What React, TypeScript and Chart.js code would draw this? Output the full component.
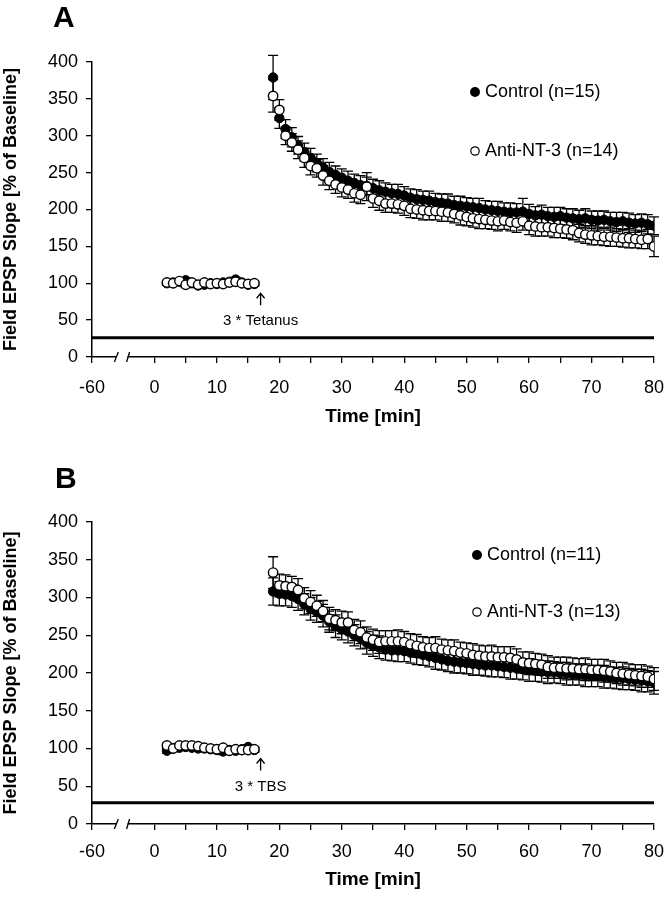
import React, { useEffect, useRef } from 'react';
import { Chart, registerables } from 'chart.js';
Chart.register(...registerables);

const FONT = "'Liberation Sans', Arial, Helvetica, sans-serif";

// ---------- shared axis data ----------
const TIME_BASE = [2, 3, 4, 5, 6, 7, 8, 9, 10, 11, 12, 13, 14, 15, 16];
const TIME_POST = [
  19, 20, 21, 22, 23, 24, 25, 26, 27, 28,
  29, 30, 31, 32, 33, 34, 35, 36, 37, 38,
  39, 40, 41, 42, 43, 44, 45, 46, 47, 48,
  49, 50, 51, 52, 53, 54, 55, 56, 57, 58,
  59, 60, 61, 62, 63, 64, 65, 66, 67, 68,
  69, 70, 71, 72, 73, 74, 75, 76, 77, 78,
  79, 80,
];
const X_TICK_VALUES = [-10, 0, 5, 10, 15, 20, 25, 30, 35, 40, 45, 50, 55, 60, 65, 70, 75, 80];
const X_TICK_LABELS = ['-60', '0', '', '10', '', '20', '', '30', '', '40', '', '50', '', '60', '', '70', '', '80'];
const X_MIN = -10;
const X_MAX = 80;
const Y_MIN = 0;
const Y_MAX = 400;
const Y_MINOR_STEP = 25;
const Y_LABEL_STEP = 50;

// ---------- Panel A ----------
const CTRL_BASE_A = [100, 101, 102, 104, 100, 97, 98, 100, 99, 101, 102, 105, 101, 98, 99];
const ANTI_BASE_A = [101, 100, 103, 98, 101, 98, 101, 99, 100, 99, 101, 102, 100, 99, 100];
const CTRL_BASE_ERR_A = [3, 3, 4, 3, 3, 3, 4, 3, 3, 3, 4, 3, 3, 3, 3];
const ANTI_BASE_ERR_A = [3, 3, 3, 4, 3, 3, 3, 3, 4, 3, 3, 3, 3, 4, 3];
const CTRL_POST_A = [
  379, 324, 309, 298, 287, 278, 270, 263, 257, 251,
  247, 243, 239, 236, 233, 232, 229, 226, 224, 222,
  221, 219, 216, 214, 213, 212, 210, 209, 208, 206,
  205, 204, 203, 202, 200, 199, 198, 197, 196, 196,
  197, 194, 192, 193, 191, 190, 191, 189, 188, 187,
  188, 186, 185, 186, 184, 183, 184, 182, 181, 182,
  180, 178,
];
const CTRL_POST_ERR_A = [
  30, 14, 13, 13, 12, 12, 13, 12, 12, 13,
  12, 12, 13, 12, 13, 12, 12, 13, 12, 12,
  13, 12, 12, 13, 12, 13, 12, 12, 13, 12,
  13, 12, 12, 13, 12, 12, 13, 12, 13, 12,
  18, 13, 12, 13, 12, 13, 12, 12, 13, 12,
  13, 12, 13, 12, 12, 13, 12, 13, 12, 12,
  13, 12,
];
const ANTI_POST_A = [
  354, 335, 300, 291, 281, 270, 259, 256, 246, 239,
  234, 230, 227, 222, 220, 231, 215, 212, 208, 208,
  207, 205, 201, 200, 199, 198, 198, 197, 196, 194,
  192, 190, 188, 187, 186, 185, 184, 185, 183, 182,
  184, 178, 177, 176, 176, 175, 174, 173, 172, 168,
  166, 165, 164, 163, 163, 162, 161, 161, 160, 159,
  160, 150,
];
const ANTI_POST_ERR_A = [
  22, 14, 12, 12, 12, 13, 12, 12, 13, 12,
  12, 13, 12, 12, 12, 19, 12, 13, 12, 12,
  12, 13, 12, 12, 13, 12, 12, 13, 12, 12,
  13, 12, 12, 13, 12, 12, 13, 12, 12, 13,
  12, 12, 13, 12, 12, 13, 12, 12, 13, 12,
  12, 13, 12, 12, 13, 12, 12, 13, 12, 12,
  13, 14,
];
const STIM_LINE_A = 26;
const EVENT_TIME_A = 17;

// ---------- Panel B ----------
const CTRL_BASE_B = [97, 100, 101, 102, 101, 100, 100, 99, 98, 96, 98, 97, 99, 102, 98];
const ANTI_BASE_B = [104, 100, 104, 104, 104, 103, 101, 100, 99, 101, 97, 99, 98, 98, 99];
const CTRL_BASE_ERR_B = [3, 3, 3, 4, 3, 3, 3, 3, 3, 4, 3, 3, 3, 3, 3];
const ANTI_BASE_ERR_B = [3, 4, 3, 3, 3, 3, 3, 4, 3, 3, 3, 3, 4, 3, 3];
const CTRL_POST_B = [
  308, 305, 304, 302, 298, 291, 285, 281, 276, 268,
  262, 258, 255, 250, 246, 240, 236, 234, 231, 230,
  230, 229, 227, 226, 224, 222, 220, 218, 216, 215,
  214, 213, 212, 211, 210, 210, 209, 208, 207, 206,
  205, 204, 203, 202, 201, 201, 200, 199, 198, 198,
  197, 196, 196, 195, 194, 193, 193, 192, 191, 190,
  189, 187,
];
const CTRL_POST_ERR_B = [
  18, 16, 15, 15, 15, 14, 15, 14, 15, 14,
  15, 14, 15, 14, 14, 15, 14, 15, 14, 14,
  15, 14, 14, 15, 14, 14, 15, 14, 14, 15,
  14, 14, 15, 14, 14, 15, 14, 14, 15, 14,
  14, 15, 14, 14, 15, 14, 14, 15, 14, 14,
  15, 14, 14, 15, 14, 14, 15, 14, 14, 15,
  14, 15,
];
const ANTI_POST_B = [
  333, 316, 315, 314, 310, 299, 294, 289, 282, 272,
  270, 267, 267, 257, 254, 247, 244, 241, 242, 242,
  242, 241, 238, 236, 234, 233, 233, 231, 230, 229,
  227, 226, 224, 223, 222, 222, 221, 221, 220, 218,
  214, 213, 212, 211, 208, 207, 207, 206, 206, 205,
  205, 204, 204, 203, 202, 200, 199, 198, 197, 196,
  195, 192,
];
const ANTI_POST_ERR_B = [
  21, 15, 15, 14, 15, 14, 15, 14, 14, 15,
  14, 15, 14, 14, 15, 14, 14, 15, 14, 14,
  15, 14, 14, 15, 14, 14, 15, 14, 14, 15,
  14, 14, 15, 14, 14, 15, 14, 14, 15, 14,
  14, 15, 14, 14, 15, 14, 14, 15, 14, 14,
  15, 14, 14, 15, 14, 14, 15, 14, 14, 15,
  14, 15,
];
const STIM_LINE_B = 28;
const EVENT_TIME_B = 17;

type PanelCfg = {
  letter: string;
  letterX: number;
  letterY: number;
  height: number;
  padTop: number;
  xAxisHeight: number;
  tickPad: number;
  titlePadBottom: number;
  ctrlBase: number[];
  antiBase: number[];
  ctrlBaseErr: number[];
  antiBaseErr: number[];
  ctrlPost: number[];
  antiPost: number[];
  ctrlPostErr: number[];
  antiPostErr: number[];
  stim: number;
  eventTime: number;
  eventLabel: string;
  ctrlLabel: string;
  antiLabel: string;
  legendX: number;
  legendCtrlY: number;
  legendAntiY: number;
};

const PANELS: PanelCfg[] = [
  {
    letter: 'A', letterX: 53, letterY: 27, height: 450, padTop: 62, xAxisHeight: 93,
    tickPad: 14, titlePadBottom: 22,
    ctrlBase: CTRL_BASE_A, antiBase: ANTI_BASE_A, ctrlBaseErr: CTRL_BASE_ERR_A, antiBaseErr: ANTI_BASE_ERR_A,
    ctrlPost: CTRL_POST_A, antiPost: ANTI_POST_A, ctrlPostErr: CTRL_POST_ERR_A, antiPostErr: ANTI_POST_ERR_A,
    stim: STIM_LINE_A, eventTime: EVENT_TIME_A, eventLabel: '3 * Tetanus',
    ctrlLabel: 'Control (n=15)', antiLabel: 'Anti-NT-3 (n=14)',
    legendX: 475, legendCtrlY: 92, legendAntiY: 151,
  },
  {
    letter: 'B', letterX: 55, letterY: 38, height: 449, padTop: 72, xAxisHeight: 75,
    tickPad: 11, titlePadBottom: 8,
    ctrlBase: CTRL_BASE_B, antiBase: ANTI_BASE_B, ctrlBaseErr: CTRL_BASE_ERR_B, antiBaseErr: ANTI_BASE_ERR_B,
    ctrlPost: CTRL_POST_B, antiPost: ANTI_POST_B, ctrlPostErr: CTRL_POST_ERR_B, antiPostErr: ANTI_POST_ERR_B,
    stim: STIM_LINE_B, eventTime: EVENT_TIME_B, eventLabel: '3 * TBS',
    ctrlLabel: 'Control (n=11)', antiLabel: 'Anti-NT-3 (n=13)',
    legendX: 477, legendCtrlY: 105, legendAntiY: 162,
  },
];

const errorBarPlugin = {
  id: 'errorBars',
  beforeDatasetsDraw(chart: any) {
    const ctx = chart.ctx;
    const y = chart.scales.y;
    ctx.save();
    ctx.strokeStyle = '#000';
    ctx.lineWidth = 1.3;
    chart.data.datasets.forEach((ds: any, i: number) => {
      if (!ds.errors) return;
      const meta = chart.getDatasetMeta(i);
      meta.data.forEach((el: any, j: number) => {
        const v = ds.data[j].y;
        const e = ds.errors[j] || 0;
        const top = y.getPixelForValue(v + e);
        const bot = y.getPixelForValue(v - e);
        const cap = 5;
        ctx.beginPath();
        ctx.moveTo(el.x, top);
        ctx.lineTo(el.x, bot);
        ctx.moveTo(el.x - cap, top);
        ctx.lineTo(el.x + cap, top);
        ctx.moveTo(el.x - cap, bot);
        ctx.lineTo(el.x + cap, bot);
        ctx.stroke();
      });
    });
    ctx.restore();
  },
};

function decorPlugin(p: PanelCfg) {
  return {
    id: 'decor',
    afterDraw(chart: any) {
      const ctx = chart.ctx;
      const xs = chart.scales.x;
      const ys = chart.scales.y;
      ctx.save();
      // panel letter
      ctx.fillStyle = '#000';
      ctx.font = `bold 30px ${FONT}`;
      ctx.textAlign = 'left';
      ctx.textBaseline = 'alphabetic';
      ctx.fillText(p.letter, p.letterX, p.letterY);

      // legend
      ctx.font = `18px ${FONT}`;
      ctx.textBaseline = 'middle';
      ctx.beginPath();
      ctx.arc(p.legendX, p.legendCtrlY, 5, 0, Math.PI * 2);
      ctx.fill();
      ctx.fillText(p.ctrlLabel, p.legendX + 10, p.legendCtrlY);
      ctx.beginPath();
      ctx.lineWidth = 1.2;
      ctx.strokeStyle = '#000';
      ctx.arc(p.legendX, p.legendAntiY, 4.2, 0, Math.PI * 2);
      ctx.stroke();
      ctx.fillText(p.antiLabel, p.legendX + 10, p.legendAntiY);

      // stimulation arrow + label
      const ax = xs.getPixelForValue(p.eventTime);
      const tip = ys.getPixelForValue(100) + 10;
      ctx.lineWidth = 1.3;
      ctx.beginPath();
      ctx.moveTo(ax, tip);
      ctx.lineTo(ax, tip + 12);
      ctx.moveTo(ax - 4, tip + 5);
      ctx.lineTo(ax, tip);
      ctx.lineTo(ax + 4, tip + 5);
      ctx.stroke();
      ctx.font = `15px ${FONT}`;
      ctx.textAlign = 'center';
      ctx.fillText(p.eventLabel, ax, tip + 28);

      // axis break
      const yAxis = ys.getPixelForValue(0);
      const b1 = xs.getPixelForValue(-6.1);
      const b2 = xs.getPixelForValue(-4.3);
      ctx.fillStyle = '#fff';
      ctx.fillRect(b1, yAxis - 2, b2 - b1, 4);
      ctx.lineWidth = 1.3;
      ctx.beginPath();
      ctx.moveTo(b1 - 2, yAxis + 5);
      ctx.lineTo(b1 + 2, yAxis - 5);
      ctx.moveTo(b2 - 1, yAxis + 5);
      ctx.lineTo(b2 + 2, yAxis - 5);
      ctx.stroke();
      ctx.restore();
    },
  };
}

function buildConfig(p: PanelCfg): any {
  const ctrl = [
    ...TIME_BASE.map((t, i) => ({ x: t, y: p.ctrlBase[i] })),
    ...TIME_POST.map((t, i) => ({ x: t, y: p.ctrlPost[i] })),
  ];
  const anti = [
    ...TIME_BASE.map((t, i) => ({ x: t, y: p.antiBase[i] })),
    ...TIME_POST.map((t, i) => ({ x: t, y: p.antiPost[i] })),
  ];
  return {
    type: 'scatter',
    data: {
      datasets: [
        {
          label: p.antiLabel,
          data: anti,
          errors: [...p.antiBaseErr, ...p.antiPostErr],
          pointRadius: 4.7,
          pointBackgroundColor: '#fff',
          pointBorderColor: '#000',
          pointBorderWidth: 1.4,
          showLine: false,
        },
        {
          label: p.ctrlLabel,
          data: ctrl,
          errors: [...p.ctrlBaseErr, ...p.ctrlPostErr],
          pointRadius: 4.7,
          pointBackgroundColor: '#000',
          pointBorderColor: '#000',
          pointBorderWidth: 1,
          showLine: false,
        },
        {
          label: 'stimulus',
          type: 'line',
          data: [{ x: X_MIN, y: p.stim }, { x: X_MAX, y: p.stim }],
          borderColor: '#000',
          borderWidth: 3,
          pointRadius: 0,
          showLine: true,
          fill: false,
        },
      ],
    },
    options: {
      responsive: false,
      animation: false,
      devicePixelRatio: 1,
      layout: { padding: { top: p.padTop, right: 13, left: 0, bottom: 0 } },
      plugins: { legend: { display: false }, tooltip: { enabled: false }, title: { display: false } },
      scales: {
        x: {
          type: 'linear',
          min: X_MIN,
          max: X_MAX,
          afterBuildTicks: (s: any) => {
            s.ticks = X_TICK_VALUES.map((v) => ({ value: v }));
          },
          afterFit: (s: any) => {
            s.height = p.xAxisHeight;
            s.paddingLeft = 0;
            s.paddingRight = 0;
          },
          ticks: {
            autoSkip: false,
            maxRotation: 0,
            padding: p.tickPad,
            color: '#000',
            font: { family: FONT, size: 18 },
            callback: (_v: any, i: number) => X_TICK_LABELS[i],
          },
          grid: { drawOnChartArea: false, drawTicks: true, tickLength: 6, color: '#000', lineWidth: 1.3 },
          border: { display: true, color: '#000', width: 1.5 },
          title: {
            display: true,
            text: 'Time [min]',
            color: '#000',
            font: { family: FONT, size: 19, weight: 'bold' },
            padding: { top: 0, bottom: p.titlePadBottom },
          },
        },
        y: {
          type: 'linear',
          min: Y_MIN,
          max: Y_MAX,
          afterFit: (s: any) => {
            s.width = 92;
            s.paddingTop = 0;
            s.paddingBottom = 0;
          },
          ticks: {
            stepSize: Y_MINOR_STEP,
            padding: 8,
            color: '#000',
            font: { family: FONT, size: 18 },
            callback: (v: number) => (v % Y_LABEL_STEP === 0 ? String(v) : ''),
          },
          grid: { drawOnChartArea: false, drawTicks: true, tickLength: 6, color: '#000', lineWidth: 1.3 },
          border: { display: true, color: '#000', width: 1.5 },
          title: {
            display: true,
            text: 'Field EPSP Slope [% of Baseline]',
            color: '#000',
            font: { family: FONT, size: 18, weight: 'bold' },
            padding: { top: 0, bottom: 0 },
          },
        },
      },
    },
    plugins: [errorBarPlugin, decorPlugin(p)],
  };
}

function Panel({ cfg }: { cfg: PanelCfg }) {
  const ref = useRef<HTMLCanvasElement>(null);
  useEffect(() => {
    const chart = new Chart(ref.current as HTMLCanvasElement, buildConfig(cfg));
    return () => chart.destroy();
  }, [cfg]);
  return (
    <canvas
      ref={ref}
      width={667}
      height={cfg.height}
      style={{ display: 'block', width: 667, height: cfg.height }}
    />
  );
}

export default function App() {
  return (
    <div style={{ position: 'absolute', left: 0, top: 0, width: 667, height: 899, background: '#fff' }}>
      {PANELS.map((p) => (
        <Panel key={p.letter} cfg={p} />
      ))}
    </div>
  );
}
